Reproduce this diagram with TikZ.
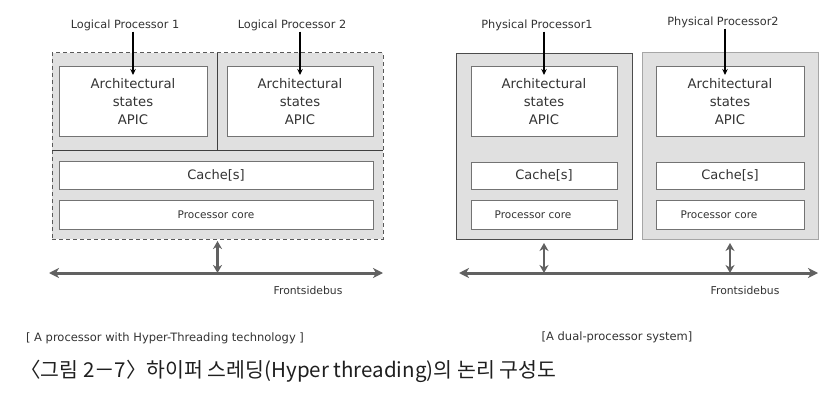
\documentclass[tikz,border=0pt]{standalone}
\usepackage{fontspec}
\setmainfont{DejaVu Sans}
\newfontfamily\kr{Noto Sans CJK KR}
\usetikzlibrary{arrows.meta,calc}
\begin{document}
\begin{tikzpicture}[x=1pt,y=-1pt,
  shell/.style={fill=black!12, inner sep=0pt, outer sep=0pt},
  box/.style={draw=black!55, fill=white, line width=1pt, inner sep=0pt, outer sep=0pt, text=black!80},
  archtxt/.style={font=\fontsize{13.2}{18}\selectfont, align=center},
  cachetxt/.style={font=\fontsize{13}{15}\selectfont},
  coretxt/.style={font=\fontsize{10.5}{12}\selectfont},
  toplbl/.style={text=black!80, font=\fontsize{11.3}{13}\selectfont, inner sep=1pt},
  buslbl/.style={text=black!80, font=\fontsize{10.8}{13}\selectfont},
  caption/.style={text=black!80, font=\fontsize{11.5}{13}\selectfont},
  down/.style={draw=black, line width=1.4pt, -{Stealth[length=6pt,width=5.5pt]}},
  bus/.style={draw=black!62, line width=3pt, {Stealth[length=10pt,width=10pt,inset=3pt]}-{Stealth[length=10pt,width=10pt,inset=3pt]}},
  tie/.style={draw=black!62, line width=2.6pt, {Stealth[length=8pt,width=9pt,inset=2.5pt]}-{Stealth[length=8pt,width=9pt,inset=2.5pt]}}
]
\useasboundingbox (0,0) rectangle (837,409);
\fill[white] (0,0) rectangle (837,409);

% ---------- left: Hyper-Threading processor ----------
\node[shell, draw=black!65, line width=1pt, dash pattern=on 4pt off 3pt,
      minimum width=331, minimum height=186] (lp) at (217.5,146) {};
\draw[black!75, line width=1pt] (lp.north) -- ($(lp.north)+(0,97)$);
\draw[black!75, line width=1pt] ($(lp.north west)+(0,97)$) -- ($(lp.north east)+(0,97)$);

\node[box, archtxt, minimum width=148, minimum height=69] (la1) at (133,101.5)
  {Architectural\\states\\APIC};
\node[box, archtxt, minimum width=146, minimum height=69] (la2) at (300,101.5)
  {Architectural\\states\\APIC};
\node[box, cachetxt, minimum width=314, minimum height=28] (lc) at (216,175) {Cache[s]};
\node[box, coretxt, minimum width=314, minimum height=29] (lk) at (216,214.5) {Processor core};

\node[toplbl] (ll1) at (125,25) {Logical Processor 1};
\node[toplbl] (ll2) at (292,25) {Logical Processor 2};
\draw[down] (ll1.south -| la1.north) -- ([yshift=-8pt]la1.north);
\draw[down] (ll2.south -| la2.north) -- ([yshift=-8pt]la2.north);

\coordinate (lbusL) at (49,273);
\coordinate (lbusR) at (383,273);
\draw[bus] (lbusL) -- (lbusR);
\draw[tie] ([yshift=-2pt]lp.south) -- (lp.south |- lbusL);
\node[buslbl] (lfsb) at (308,290) {Frontsidebus};

\node[caption] (lcap) at (165,338) {[ A processor with Hyper-Threading technology ]};

% ---------- right: dual-processor system ----------
\node[shell, draw=black!70, line width=0.9pt, minimum width=176, minimum height=186] (p1) at (544,146) {};
\node[shell, draw=black!35, line width=1pt, minimum width=176, minimum height=186] (p2) at (730,146) {};

\node[box, archtxt, minimum width=146, minimum height=69] (ra1) at (544,101.5)
  {Architectural\\states\\APIC};
\node[box, archtxt, minimum width=148, minimum height=69] (ra2) at (730,101.5)
  {Architectural\\states\\APIC};
\node[box, cachetxt, minimum width=146, minimum height=27] (rc1) at (544,175.5) {Cache[s]};
\node[box, cachetxt, minimum width=148, minimum height=27] (rc2) at (730,175.5) {Cache[s]};
\node[box, coretxt, minimum width=146, minimum height=29] (rk1) at (544,214.5) {Processor core\kern22pt};
\node[box, coretxt, minimum width=148, minimum height=29] (rk2) at (730,214.5) {Processor core\kern22pt};

\node[toplbl] (rl1) at (537,25) {Physical Processor1};
\node[toplbl] (rl2) at (723,22) {Physical Processor2};
\draw[down] (rl1.south -| ra1.north) -- ([yshift=-8pt]ra1.north);
\draw[down] ([xshift=-5pt]rl2.south -| ra2.north) -- ([xshift=-5pt,yshift=-8pt]ra2.north);

\coordinate (rbusL) at (459,273);
\coordinate (rbusR) at (818,273);
\draw[bus] (rbusL) -- (rbusR);
\draw[tie] ([yshift=-4pt]p1.south) -- (p1.south |- rbusL);
\draw[tie] ([yshift=-4pt]p2.south) -- (p2.south |- rbusL);
\node[buslbl] (rfsb) at (745,290) {Frontsidebus};

\node[caption] (rcap) at (617,337) {[A dual-processor system]};

% ---------- title ----------
\node[anchor=west, inner sep=0pt, text=black!88, font=\kr\fontsize{20.5}{24}\selectfont] (title) at (20,371)
  {〈그림 2－7〉하이퍼 스레딩(Hyper threading)의 논리 구성도};
\end{tikzpicture}
\end{document}
